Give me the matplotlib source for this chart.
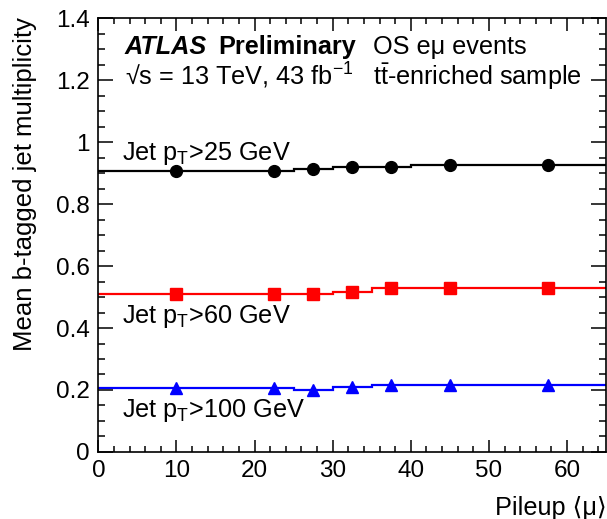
import matplotlib
matplotlib.use("Agg")
import matplotlib.pyplot as plt
from matplotlib.ticker import MultipleLocator, FormatStrFormatter

plt.rcParams["font.family"] = ["Liberation Sans", "DejaVu Sans"]
plt.rcParams["mathtext.fontset"] = "custom"
plt.rcParams["mathtext.rm"] = "Liberation Sans"
plt.rcParams["mathtext.it"] = "Liberation Sans:italic"
plt.rcParams["mathtext.bf"] = "Liberation Sans:bold"

# Pileup bins and mean b-tagged jet multiplicity per jet-pT threshold
bin_edges = [0, 20, 25, 30, 35, 40, 50, 65]
pileup_centers = [10, 22.5, 27.5, 32.5, 37.5, 45, 57.5]
mult_pt25 = [0.905, 0.905, 0.913, 0.918, 0.919, 0.926, 0.926]
mult_pt60 = [0.510, 0.510, 0.511, 0.517, 0.529, 0.530, 0.530]
mult_pt100 = [0.207, 0.207, 0.201, 0.210, 0.215, 0.215, 0.215]

series = [
    (mult_pt25, "black", "o", 8.5, "Jet p$_{\\mathrm{T}}$>25 GeV", 0.942),
    (mult_pt60, "#ff0000", "s", 9.0, "Jet p$_{\\mathrm{T}}$>60 GeV", 0.416),
    (mult_pt100, "#0000ff", "^", 8.0, "Jet p$_{\\mathrm{T}}$>100 GeV", 0.113),
]

fs = 17.5
fs_text = 18.2
fig = plt.figure(figsize=(6.07, 5.19), dpi=100)
ax = fig.add_axes([0.162, 0.1291, 0.8365, 0.8362])

for vals, col, mk, ms, label, ty in series:
    ax.stairs(vals, bin_edges, color=col, lw=1.6, baseline=None)
    ax.plot(pileup_centers, vals, ls="none", marker=mk, ms=ms, color=col,
            mec=col)
    ax.text(3.0, ty, label, fontsize=fs_text, ha="left", va="baseline")

ax.set_xlim(0, 65)
ax.set_ylim(0, 1.4)
ax.xaxis.set_major_locator(MultipleLocator(10))
ax.xaxis.set_minor_locator(MultipleLocator(2))
ax.yaxis.set_major_locator(MultipleLocator(0.2))
ax.yaxis.set_minor_locator(MultipleLocator(0.05))
ax.yaxis.set_major_formatter(FormatStrFormatter("%g"))
ax.tick_params(which="both", direction="in", top=True, right=True,
               labelsize=fs, width=1.1)
ax.tick_params(axis="x", which="major", length=9, pad=6)
ax.tick_params(axis="x", which="minor", length=4.5)
ax.tick_params(axis="y", which="major", length=11, pad=6)
ax.tick_params(axis="y", which="minor", length=5)
for sp in ax.spines.values():
    sp.set_linewidth(1.2)

# Header text
ax.text(3.4, 1.284, "ATLAS", fontsize=fs_text, fontweight="bold",
        fontstyle="italic", va="baseline")
ax.text(15.3, 1.284, "Preliminary", fontsize=fs_text, fontweight="bold",
        va="baseline")
ax.text(35.1, 1.284, "OS e\u03bc events", fontsize=fs_text, va="baseline")
ax.text(3.4, 1.184, "\u221as = 13 TeV, 43 fb$^{-1}$", fontsize=fs_text,
        va="baseline")
ax.text(35.1, 1.184, "t$\\bar{\\mathrm{t}}$-enriched sample",
        fontsize=fs_text, va="baseline")

fig.text(25 / 607, 1 - 17 / 519, "Mean b-tagged jet multiplicity",
         rotation=90, ha="center", va="top", fontsize=18.5)
fig.text(1.0, 1 - 515 / 519, "Pileup \u27e8\u03bc\u27e9", ha="right",
         va="baseline", fontsize=fs_text)

fig.savefig("out.png", dpi=100)
